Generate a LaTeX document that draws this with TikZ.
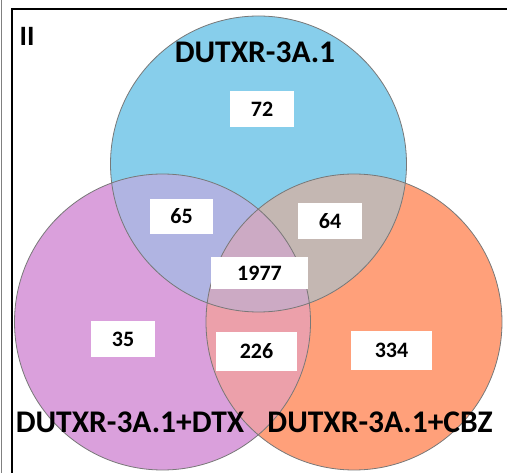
\documentclass[tikz,border=0pt]{standalone}
\usepackage{fontspec}
\setmainfont{Carlito}
\definecolor{blueC}{RGB}{135,206,235}
\definecolor{purpleC}{RGB}{218,160,220}
\definecolor{orangeC}{RGB}{255,160,122}
\definecolor{bpC}{RGB}{176,180,226}
\definecolor{boC}{RGB}{196,183,178}
\definecolor{poC}{RGB}{236,160,170}
\definecolor{bpoC}{RGB}{204,170,196}
\definecolor{edgeC}{RGB}{120,120,120}
\begin{document}
\begin{tikzpicture}[x=1pt,y=-1pt,
  numbox/.style={fill=white, inner sep=0pt, minimum width=64pt, minimum height=36pt, font=\fontsize{22}{22}\selectfont\bfseries},
  setlabel/.style={inner sep=0pt, font=\fontsize{31.5}{31.5}\selectfont\bfseries},
  rim/.style={draw=edgeC, line width=0.8pt}]
\useasboundingbox (0,0) rectangle (507,473);
\fill[white] (0,0) rectangle (507,473);
\def\R{148pt}
\coordinate (cB) at (258.5,164);
\coordinate (cP) at (162.5,322);
\coordinate (cO) at (354,322);
% fills
\fill[purpleC] (cP) circle[radius=\R];
\fill[orangeC] (cO) circle[radius=\R];
\fill[blueC] (cB) circle[radius=\R];
\begin{scope}
  \clip (cB) circle[radius=\R];
  \fill[bpC] (cP) circle[radius=\R];
  \fill[boC] (cO) circle[radius=\R];
\end{scope}
\begin{scope}
  \clip (cP) circle[radius=\R];
  \fill[poC] (cO) circle[radius=\R];
  \clip (cB) circle[radius=\R];
  \fill[bpoC] (cO) circle[radius=\R];
\end{scope}
% outlines
\draw[rim] (cB) circle[radius=\R];
\draw[rim] (cP) circle[radius=\R];
\draw[rim] (cO) circle[radius=\R];
% frame
\draw[gray, line width=1pt] (1.5,0) -- (1.5,473);
\draw[black, line width=1.6pt] (12,473) -- (12,9.3) -- (507,9.3);
% labels
\node[setlabel, font=\fontsize{28}{28}\selectfont\bfseries] (panel) at (27,36) {II};
\node[setlabel] (lB) at (255,52) {DUTXR-3A.1};
\node[setlabel] (lP) at (130,422) {DUTXR-3A.1+DTX};
\node[setlabel] (lO) at (380,422) {DUTXR-3A.1+CBZ};
% numbers
\node[numbox] (n72) at (262,109) {72};
\node[numbox, minimum width=63pt, minimum height=35pt] (n65) at (181.5,216.5) {65};
\node[numbox] (n64) at (330,221) {64};
\node[numbox, minimum width=97pt, minimum height=32pt] (n1977) at (259.5,273) {1977};
\node[numbox] (n35) at (123,339) {35};
\node[numbox, minimum width=81pt, minimum height=39pt] (n226) at (256.5,351.5) {226};
\node[numbox, minimum width=81pt, minimum height=39pt] (n334) at (391.5,350.5) {334};
\end{tikzpicture}
\end{document}
